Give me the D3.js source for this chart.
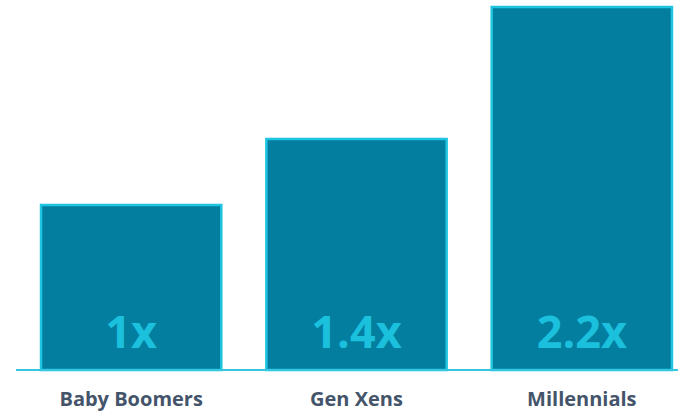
<!DOCTYPE html>
<html>
<head>
<meta charset="utf-8">
<script src="https://cdn.jsdelivr.net/npm/d3@7"></script>
<style>
  body { margin: 0; background: #fff; }
  svg { display: block; font-family: "Open Sans", sans-serif; }
</style>
</head>
<body>
<div id="graph"></div>
<script>
const generations = ["Baby Boomers", "Gen Xens", "Millennials"];
const multipliers = [1, 1.4, 2.2];
const valueLabels = ["1x", "1.4x", "2.2x"];

const width = 678, height = 413;
const baseY = 370;

const svg = d3.select("#graph").append("svg")
  .attr("width", width)
  .attr("height", height);

// x: one band per generation
const x = d3.scaleBand()
  .domain(generations)
  .range([18.5, 694.5])
  .paddingInner(0.2)
  .paddingOuter(0.1);

// y: linear from zero, tallest bar almost hits the top
const y = d3.scaleLinear()
  .domain([0, 2.2])
  .range([baseY, 7]);

const data = generations.map((g, i) => ({ name: g, value: multipliers[i], label: valueLabels[i] }));

// bars
svg.append("g")
  .selectAll("rect")
  .data(data)
  .join("rect")
    .attr("x", d => x(d.name))
    .attr("y", d => y(d.value))
    .attr("width", x.bandwidth())
    .attr("height", d => y(0) - y(d.value))
    .attr("fill", "#037e9f")
    .attr("stroke", "#1ec4e0")
    .attr("stroke-width", 2.5);

// baseline
svg.append("line")
  .attr("x1", 16).attr("x2", width)
  .attr("y1", baseY).attr("y2", baseY)
  .attr("stroke", "#35c6e0")
  .attr("stroke-width", 2);

// big labels inside bars
svg.append("g")
  .selectAll("text")
  .data(data)
  .join("text")
    .attr("x", d => x(d.name) + x.bandwidth() / 2)
    .attr("y", 348)
    .attr("text-anchor", "middle")
    .attr("fill", "#1bc0dd")
    .style("font-size", "45px")
    .style("font-weight", "bold")
    .text(d => d.label);

// category labels
svg.append("g")
  .selectAll("text")
  .data(data)
  .join("text")
    .attr("x", d => x(d.name) + x.bandwidth() / 2)
    .attr("y", 406)
    .attr("text-anchor", "middle")
    .attr("fill", "#44546a")
    .style("font-size", "20px")
    .style("font-weight", "bold")
    .text(d => d.name);
</script>
</body>
</html>
